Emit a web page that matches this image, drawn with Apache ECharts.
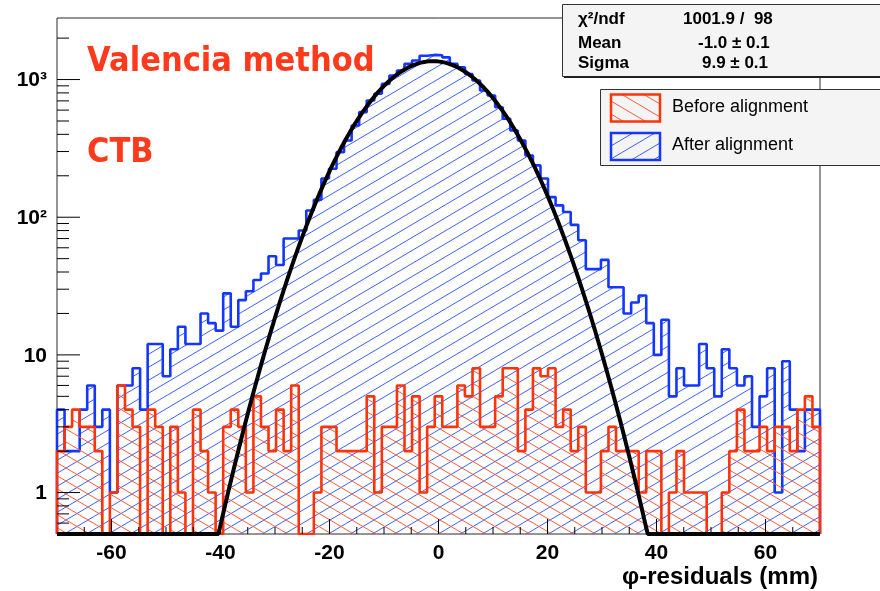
<!DOCTYPE html>
<html>
<head>
<meta charset="utf-8">
<script src="https://cdn.jsdelivr.net/npm/echarts@6/dist/echarts.min.js"></script>
<style>
  html, body { margin: 0; padding: 0; background: #ffffff; }
  #chart { width: 880px; height: 591px; }
</style>
</head>
<body>
<div id="chart"></div>
<script>
// Histogram binning: 101 equal bins over the residual range (mm)
const xRange = [-70, 70];
const binCount = 101;
const yRange = [0.5, 2800];

// Entries per bin before the alignment
const beforeAlignment = [
  2, 3, 4, 3, 3, 2, 0, 1, 6, 4,
  3, 0, 4, 3, 0, 3, 1, 0, 4, 2,
  1, 0, 3, 4, 3, 1, 5, 3, 2, 4,
  2, 6, 0, 0, 1, 3, 3, 2, 2, 2,
  2, 5, 1, 3, 3, 6, 2, 5, 1, 3,
  5, 3, 3, 6, 5, 8, 3, 3, 5, 8,
  8, 2, 4, 8, 7, 8, 3, 4, 2, 3,
  1, 1, 2, 3, 2, 2, 2, 1, 2, 2,
  0, 1, 2, 1, 1, 1, 0, 0, 1, 2,
  4, 2, 2, 3, 2, 3, 3, 2, 4, 5,
  3
];

// Entries per bin after the alignment
const afterAlignment = [
  4, 2, 2, 4, 6, 3, 4, 1, 6, 6,
  8, 4, 12, 12, 7, 11, 16, 12, 12, 20,
  17, 15, 28, 16, 25, 29, 35, 39, 52, 45,
  70, 70, 80, 112, 134, 191, 225, 297, 361, 464,
  580, 704, 788, 930, 1070, 1162, 1300, 1374, 1490, 1510,
  1500, 1450, 1300, 1228, 1098, 984, 833, 765, 630, 519,
  427, 361, 281, 238, 191, 140, 122, 109, 88, 68,
  42, 42, 49, 31, 31, 20, 24, 27, 17, 10,
  18, 5, 8, 6, 6, 12, 8, 5, 11, 8,
  6, 7, 3, 5, 8, 1, 9, 4, 2, 4,
  4
];

// Gaussian fit to the aligned distribution
const fitConstant = 1360;
const fitMean = -1.0;
const fitSigma = 9.9;
const fitChi2 = 1001.9;
const fitNdf = 98;
const fitErrMean = 0.1;
const fitErrSigma = 0.1;

// Axis ticks and labels
const xMajorTicks = [-60, -40, -20, 0, 20, 40, 60];
const xMinorTicks = [-65, -55, -50, -45, -35, -30, -25, -15, -10, -5, 5, 10, 15, 25, 30, 35, 45, 50, 55, 65];
const xTickLabels = ['-60', '-40', '-20', '0', '20', '40', '60'];
const yMajorTicks = [1, 10, 100, 1000];
const yTickLabels = ['1', '10', '10\u00B2', '10\u00B3'];
const yMinorTicks = [0.6, 0.7, 0.8, 0.9, 2, 3, 4, 5, 6, 7, 8, 9,
  20, 30, 40, 50, 60, 70, 80, 90, 200, 300, 400, 500, 600, 700, 800, 900, 2000];

const xTitle = '\u03C6-residuals (mm)';
const seriesNames = ['Before alignment', 'After alignment'];
const statNames = ['\u03C7\u00B2/ndf', 'Mean', 'Sigma'];
const statValues = [
  fitChi2.toFixed(1) + ' /  ' + fitNdf,
  fitMean.toFixed(1) + ' \u00B1 ' + fitErrMean.toFixed(1),
  fitSigma.toFixed(1) + ' \u00B1 ' + fitErrSigma.toFixed(1)
];
const annotations = ['Valencia method', 'CTB'];

const RED = '#ff3308';
const BLUE = '#1437ff';
const HELV = '"Liberation Sans", Arial, sans-serif';
const NOTE_FONT = 'bold 34px "DejaVu Sans", sans-serif';

// Hatched fill as a repeating canvas tile
function hatch(color, w, h, rising) {
  const c = document.createElement('canvas');
  c.width = w; c.height = h;
  const g = c.getContext('2d');
  g.strokeStyle = color;
  g.lineWidth = 1;
  for (const dy of [-h, 0, h]) {
    g.beginPath();
    if (rising) { g.moveTo(0, h + dy); g.lineTo(w, dy); }
    else { g.moveTo(0, dy); g.lineTo(w, h + dy); }
    g.stroke();
  }
  return { image: c, repeat: 'repeat' };
}
const redHatch = hatch('#ff5a3a', 22, 13, false);
const blueHatch = hatch('#3d60ff', 22, 13, true);

// Outline of a histogram as a stepped polyline; empty bins sit on the axis floor
function histogramSteps(counts) {
  const w = (xRange[1] - xRange[0]) / binCount;
  const pts = [[xRange[0], yRange[0]]];
  counts.forEach((c, i) => pts.push([xRange[0] + i * w, c > 0 ? c : yRange[0]]));
  pts.push([xRange[1], counts[counts.length - 1] > 0 ? counts[counts.length - 1] : yRange[0]]);
  pts.push([xRange[1], yRange[0]]);
  return pts;
}

// Fit function sampled finely, held at the floor where it leaves the range
function fitCurve() {
  const pts = [];
  for (let k = 0; k <= 700; k++) {
    const x = xRange[0] + k * (xRange[1] - xRange[0]) / 700;
    const y = fitConstant * Math.exp(-0.5 * Math.pow((x - fitMean) / fitSigma, 2));
    pts.push([x, Math.max(y, yRange[0])]);
  }
  return pts;
}

const chart = echarts.init(document.getElementById('chart'), null, { renderer: 'canvas' });

function axisGroup(params, api) {
  const kids = [];
  const tickStyle = { stroke: '#000', lineWidth: 1 };
  xMajorTicks.forEach((v, i) => {
    const p = api.coord([v, yRange[0]]);
    kids.push({ type: 'line', shape: { x1: p[0], y1: p[1], x2: p[0], y2: p[1] - 15 }, style: tickStyle });
    kids.push({ type: 'text', style: { text: xTickLabels[i], x: p[0], y: p[1] + 9, align: 'center', verticalAlign: 'top',
      font: 'bold 21px ' + HELV, fill: '#000' } });
  });
  xMinorTicks.forEach(v => {
    const p = api.coord([v, yRange[0]]);
    kids.push({ type: 'line', shape: { x1: p[0], y1: p[1], x2: p[0], y2: p[1] - 7 }, style: tickStyle });
  });
  yMajorTicks.forEach((v, i) => {
    const p = api.coord([xRange[0], v]);
    kids.push({ type: 'line', shape: { x1: p[0], y1: p[1], x2: p[0] + 23, y2: p[1] }, style: tickStyle });
    kids.push({ type: 'text', style: { text: yTickLabels[i], x: p[0] - 10, y: p[1] + 1, align: 'right', verticalAlign: 'middle',
      font: 'bold 21px ' + HELV, fill: '#000' } });
  });
  yMinorTicks.forEach(v => {
    const p = api.coord([xRange[0], v]);
    kids.push({ type: 'line', shape: { x1: p[0], y1: p[1], x2: p[0] + 12, y2: p[1] }, style: tickStyle });
  });
  return { type: 'group', children: kids };
}

const option = {
  animation: false,
  backgroundColor: '#ffffff',
  grid: { left: 57, right: 60, top: 18, bottom: 57, show: true, borderColor: '#2a2a2a', borderWidth: 1, backgroundColor: 'transparent' },
  xAxis: {
    type: 'value', min: xRange[0], max: xRange[1],
    axisLine: { show: false }, axisTick: { show: false }, axisLabel: { show: false }, splitLine: { show: false }
  },
  yAxis: {
    type: 'log', logBase: 10, min: yRange[0], max: yRange[1],
    axisLine: { show: false }, axisTick: { show: false }, axisLabel: { show: false }, splitLine: { show: false }
  },
  series: [
    {
      name: seriesNames[1], type: 'line', step: 'end', data: histogramSteps(afterAlignment),
      showSymbol: false, symbol: 'none', clip: true, z: 2,
      lineStyle: { color: BLUE, width: 2.6 },
      areaStyle: { color: blueHatch, opacity: 1, origin: 'start' },
      emphasis: { disabled: true }
    },
    {
      name: seriesNames[0], type: 'line', step: 'end', data: histogramSteps(beforeAlignment),
      showSymbol: false, symbol: 'none', clip: true, z: 3,
      lineStyle: { color: RED, width: 2.6 },
      areaStyle: { color: redHatch, opacity: 1, origin: 'start' },
      emphasis: { disabled: true }
    },
    {
      name: 'gaus', type: 'line', data: fitCurve(), showSymbol: false, symbol: 'none', clip: true, z: 4,
      lineStyle: { color: '#000', width: 4 }, emphasis: { disabled: true }
    },
    {
      type: 'custom', data: [[0, 1]], renderItem: axisGroup, clip: false, silent: true, z: 5
    }
  ],
  graphic: [
    { type: 'text', z: 10, x: 87, y: 62, scaleX: 0.9,
      style: { text: annotations[0], x: 0, y: 0, verticalAlign: 'middle', font: NOTE_FONT, fill: '#ff3a1c' } },
    { type: 'text', z: 10, x: 87, y: 153, scaleX: 0.9,
      style: { text: annotations[1], x: 0, y: 0, verticalAlign: 'middle', font: NOTE_FONT, fill: '#ff3a1c' } },
    { type: 'text', z: 10, style: { text: xTitle, x: 818, y: 577, align: 'right', verticalAlign: 'middle',
      font: 'bold 24px ' + HELV, fill: '#000' } },
    // statistics box
    { type: 'rect', z: 10, shape: { x: 562.5, y: 4.5, width: 340, height: 72 }, style: { fill: '#f4f4f4', stroke: '#333', lineWidth: 1 } },
    { type: 'rect', z: 10, shape: { x: 564, y: 76, width: 340, height: 2 }, style: { fill: '#222' } },
    { type: 'text', z: 11, style: { text: statNames[0], x: 578, y: 19, verticalAlign: 'middle', font: 'bold 17px ' + HELV, fill: '#000' } },
    { type: 'text', z: 11, style: { text: statNames[1], x: 578, y: 43, verticalAlign: 'middle', font: 'bold 17px ' + HELV, fill: '#000' } },
    { type: 'text', z: 11, style: { text: statNames[2], x: 578, y: 63, verticalAlign: 'middle', font: 'bold 17px ' + HELV, fill: '#000' } },
    { type: 'text', z: 11, style: { text: statValues[0], x: 683, y: 19, verticalAlign: 'middle', font: 'bold 17px ' + HELV, fill: '#000' } },
    { type: 'text', z: 11, style: { text: statValues[1], x: 698, y: 43, verticalAlign: 'middle', font: 'bold 17px ' + HELV, fill: '#000' } },
    { type: 'text', z: 11, style: { text: statValues[2], x: 702, y: 63, verticalAlign: 'middle', font: 'bold 17px ' + HELV, fill: '#000' } },
    // legend box
    { type: 'rect', z: 10, shape: { x: 600.5, y: 89.5, width: 300, height: 76 }, style: { fill: '#f4f4f4', stroke: '#333', lineWidth: 1 } },
    { type: 'rect', z: 11, shape: { x: 611, y: 94.5, width: 49, height: 27 }, style: { fill: redHatch, stroke: RED, lineWidth: 2.5 } },
    { type: 'rect', z: 11, shape: { x: 611, y: 133, width: 49, height: 27 }, style: { fill: blueHatch, stroke: BLUE, lineWidth: 2.5 } },
    { type: 'text', z: 11, style: { text: seriesNames[0], x: 672, y: 107, verticalAlign: 'middle', font: '18px ' + HELV, fill: '#000' } },
    { type: 'text', z: 11, style: { text: seriesNames[1], x: 672, y: 145, verticalAlign: 'middle', font: '18px ' + HELV, fill: '#000' } }
  ]
};

chart.setOption(option);
</script>
</body>
</html>
